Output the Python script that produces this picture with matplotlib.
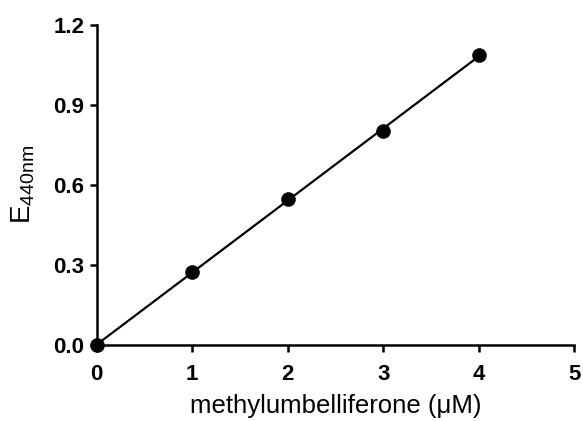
import numpy as np
import matplotlib
matplotlib.use('Agg')
import matplotlib.pyplot as plt

plt.rcParams['font.family'] = ['Liberation Sans', 'DejaVu Sans']
plt.rcParams['mathtext.fontset'] = 'custom'
plt.rcParams['mathtext.rm'] = 'Liberation Sans'

conc = [0, 1, 2, 3, 4]
absorb = [0.0, 0.274, 0.545, 0.800, 1.088]
xticks = [0, 1, 2, 3, 4, 5]
yticks = [0.0, 0.3, 0.6, 0.9, 1.2]


def main():
    fig = plt.figure(figsize=(5.83, 4.21), dpi=100)
    ax = fig.add_axes([0.166, 0.181, 0.819, 0.760])

    # linear fit over the measured range
    slope, icpt = np.polyfit(conc, absorb, 1)
    xs = np.array([min(conc), max(conc)])
    ax.plot(xs, slope * xs + icpt, color='black', lw=1.6, clip_on=False)
    ax.plot(conc, absorb, 'o', color='black', ms=9.5, clip_on=False, zorder=5)

    ax.set_xlim(0, 5)
    ax.set_ylim(0, 1.2)
    ax.set_xticks(xticks)
    ax.set_yticks(yticks)
    ax.set_yticklabels(['%.1f' % v for v in yticks])
    for s in ['top', 'right']:
        ax.spines[s].set_visible(False)
    for s in ['left', 'bottom']:
        ax.spines[s].set_linewidth(1.8)
    ax.tick_params(width=1.8, length=5, labelsize=16)
    ax.tick_params(axis='x', pad=9)
    ax.tick_params(axis='y', pad=4)
    for lab in ax.get_xticklabels() + ax.get_yticklabels():
        lab.set_fontweight('bold')

    ax.set_xlabel('methylumbelliferone (\u03bcM)', fontsize=18.5, labelpad=6)
    ax.set_ylabel(r'E$_{\mathregular{440nm}}$', fontsize=20, labelpad=12)

    fig.savefig('out.png', dpi=100)
    plt.close('all')


if __name__ == "__main__":
    main()
